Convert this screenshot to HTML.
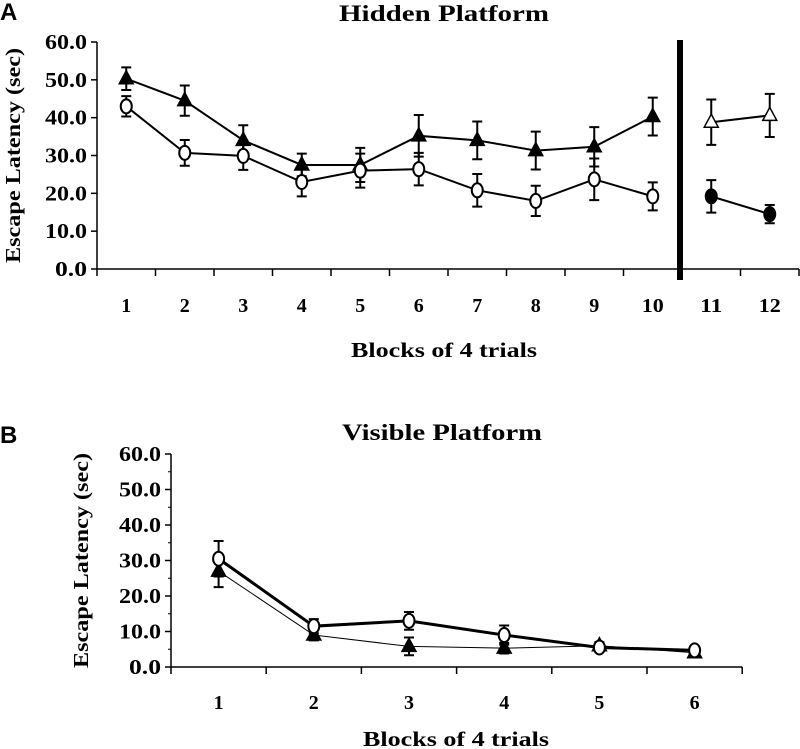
<!DOCTYPE html>
<html><head><meta charset="utf-8"><style>
html,body{margin:0;padding:0;background:#fff;}
svg{display:block;font-family:"Liberation Serif","Times New Roman",serif;font-weight:bold;}
</style></head><body>
<svg id="chart" width="800" height="749" viewBox="0 0 800 749" xmlns="http://www.w3.org/2000/svg">
<text x="0" y="20" font-family="Liberation Sans" font-size="24">A</text>
<text x="444" y="21" font-size="23" text-anchor="middle" textLength="210" lengthAdjust="spacingAndGlyphs">Hidden Platform</text>
<text x="0" y="443" font-family="Liberation Sans" font-size="24">B</text>
<text x="442" y="440" font-size="23" text-anchor="middle" textLength="200" lengthAdjust="spacingAndGlyphs">Visible Platform</text>
<g id="pa"></g>
<g id="pb"></g>
</svg>
<script>
const aCats=[1,2,3,4,5,6,7,8,9,10,11,12];
const aTri=[50.3,44.5,34,27.5,27.5,35.2,34,31.3,32.3,40.3,38.8,40.6];
const aTriErr=[3,4,4,3,4.5,5.5,5,5,5.2,5,6,5.7];
const aCirc=[43,30.7,29.9,23,26,26.4,20.8,18,23.7,19.2,19.2,14.5];
const aCircErr=[2.7,3.4,3.7,3.8,4.5,4.3,4.3,4,5.5,3.7,4.3,2.4];
const bCats=[1,2,3,4,5,6];
const bCirc=[30.5,11.5,13,9,5.5,4.7];
const bCircErr=[5,2,2.5,2.7,1,1];
const bTri=[27,9,5.8,5.3,6,4];
const bTriErr=[4.5,1.5,2.5,1.5,1,1];
const yTicks=["0.0","10.0","20.0","30.0","40.0","50.0","60.0"];
const NS="http://www.w3.org/2000/svg";
function mk(p,tag,attrs){const e=document.createElementNS(NS,tag);for(const k in attrs)e.setAttribute(k,attrs[k]);p.appendChild(e);return e;}
function panel(g,o){
  const X=i=>o.x0+(i+0.5)*o.w;
  const Y=v=>o.y0-(v/60)*(o.y0-o.y60);
  let ax=mk(g,'line',{x1:o.x0,y1:o.y60,x2:o.x0,y2:o.y0,stroke:'#000','stroke-width':1.5});
  
  let bx=mk(g,'line',{x1:o.x0,y1:o.y0,x2:o.x0+o.n*o.w,y2:o.y0,stroke:'#000','stroke-width':1.5});
  
  for(let i=0;i<=o.n;i++){const x=o.x0+i*o.w;mk(g,'line',{x1:x,y1:o.y0,x2:x,y2:o.y0+7,stroke:'#000','stroke-width':1.5});}
  yTicks.forEach((t,i)=>{const v=i*10;const y=Y(v);
    mk(g,'line',{x1:o.x0-6,y1:y,x2:o.x0,y2:y,stroke:'#000','stroke-width':1.5});
    if(o.minor&&v<60)mk(g,'line',{x1:o.x0-3,y1:Y(v+5),x2:o.x0,y2:Y(v+5),stroke:'#000','stroke-width':1});
    const tx=mk(g,'text',{x:o.x0-10,y:y+7,'font-size':21,'text-anchor':'end',textLength:t.length>3?42:32,lengthAdjust:'spacingAndGlyphs'});tx.textContent=t;
    });
  o.cats.forEach((c,i)=>{const s=String(c);const t=mk(g,'text',{x:X(i),y:o.labY,'font-size':20,'text-anchor':'middle',textLength:s.length>1?22:10,lengthAdjust:'spacingAndGlyphs'});t.textContent=s;
    });
  const xt=mk(g,'text',{x:o.titX,y:o.titY,'font-size':21,'text-anchor':'middle',textLength:186,lengthAdjust:'spacingAndGlyphs'});xt.textContent='Blocks of 4 trials';
  
  const yt=mk(g,'text',{x:0,y:0,'font-size':21,'text-anchor':'middle',transform:`translate(${o.ytX},${(o.y0+o.y60)/2}) rotate(-90)`,textLength:215,lengthAdjust:'spacingAndGlyphs'});yt.textContent='Escape Latency (sec)';
  
  o.series.forEach(s=>{
    s.segs.forEach(([a,b])=>{const pts=[];for(let i=a;i<=b;i++)pts.push(X(i)+','+Y(s.vals[i]));
      const pl=mk(g,'polyline',{points:pts.join(' '),fill:'none',stroke:'#000','stroke-width':s.lw});
      });
    s.vals.forEach((v,i)=>{const x=X(i),e=s.err[i];
      const eb=mk(g,'path',{d:`M${x},${Y(v-e)}V${Y(v+e)}M${x-5},${Y(v+e)}h10M${x-5},${Y(v-e)}h10`,stroke:'#000','stroke-width':2,fill:'none'});
      
      const filled=s.fill(i);let m;
      if(s.shape==='tri'){const y=Y(v);m=mk(g,'polygon',{points:`${x},${y-8} ${x-7},${y+5} ${x+7},${y+5}`,fill:filled?'#000':'#fff',stroke:'#000','stroke-width':1.5});}
      else m=mk(g,'ellipse',{cx:x,cy:Y(v),rx:5.5,ry:7,fill:filled?'#000':'#fff',stroke:'#000','stroke-width':2});
      });
  });
}
panel(document.getElementById('pa'),{x0:97,w:58.5,n:12,y0:269,y60:42,cats:aCats,labY:312,titX:444,titY:357,ytX:20,minor:false,
  series:[{name:'triangle-series',vals:aTri,err:aTriErr,shape:'tri',lw:2,segs:[[0,9],[10,11]],fill:i=>i<10},
          {name:'circle-series',vals:aCirc,err:aCircErr,shape:'circ',lw:2,segs:[[0,9],[10,11]],fill:i=>i>=10}]});
panel(document.getElementById('pb'),{x0:171,w:95.2,n:6,y0:667,y60:454,cats:bCats,labY:709,titX:456,titY:746,ytX:88,minor:true,
  series:[{name:'triangle-series',vals:bTri,err:bTriErr,shape:'tri',lw:1,segs:[[0,5]],fill:i=>true},
          {name:'circle-series',vals:bCirc,err:bCircErr,shape:'circ',lw:3,segs:[[0,5]],fill:i=>false}]});
const pa=document.getElementById('pa');
const bar=mk(pa,'rect',{x:677,y:40,width:6,height:240,fill:'#000'});


</script>
</body></html>
